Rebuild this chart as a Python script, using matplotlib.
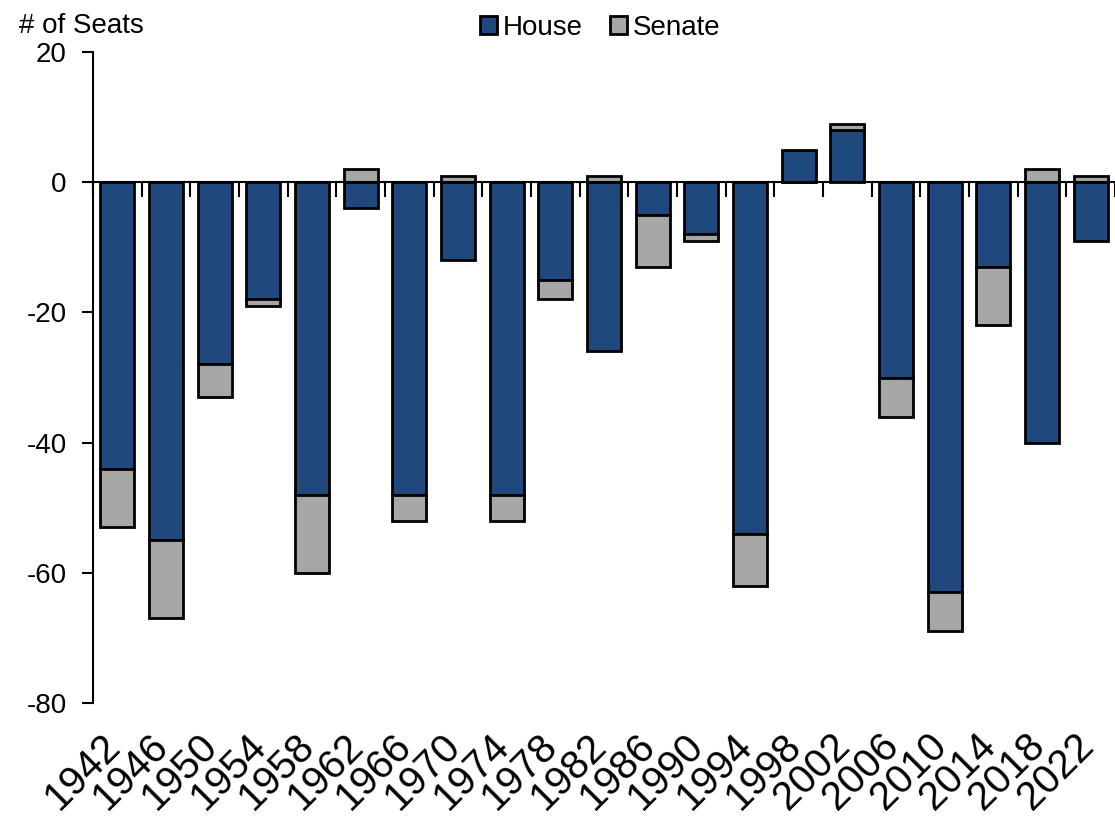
import matplotlib
matplotlib.use("Agg")
import matplotlib.pyplot as plt
import numpy as np

years = ["1942", "1946", "1950", "1954", "1958", "1962", "1966", "1970", "1974", "1978",
         "1982", "1986", "1990", "1994", "1998", "2002", "2006", "2010", "2014", "2018", "2022"]
house = [-44, -55, -28, -18, -48, -4, -48, -12, -48, -15,
         -26, -5, -8, -54, 5, 8, -30, -63, -13, -40, -9]
senate = [-9, -12, -5, -1, -12, 2, -4, 1, -4, -3,
          1, -8, -1, -8, 0, 1, -6, -6, -9, 2, 1]

house_color = "#1F497D"
senate_color = "#A6A6A6"

plt.rcParams['font.family'] = ['Liberation Sans', 'DejaVu Sans']
plt.rcParams['axes.unicode_minus'] = False

fig = plt.figure(figsize=(11.15, 8.21), dpi=100)
ax = fig.add_axes([93/1115, 1-703/821, 1-93/1115, (703-52)/821])

x = np.arange(len(years))
h = np.array(house, dtype=float)
s = np.array(senate, dtype=float)
# stack senate on the same side as house where signs agree, else from zero
s_bottom = np.where(np.sign(s) == np.sign(h), h, 0.0)

ax.bar(x, h, width=0.7, color=house_color, edgecolor="black", linewidth=2, label="House", zorder=3)
ax.bar(x, s, bottom=s_bottom, width=0.7, color=senate_color, edgecolor="black", linewidth=2,
       label="Senate", zorder=3)

ax.set_xlim(-0.5, len(years) - 0.5)
ax.set_ylim(-80, 20)
ax.set_yticks([20, 0, -20, -40, -60, -80])
ax.tick_params(axis='y', direction='out', length=8, width=1.5, labelsize=20, pad=11)

for side in ['top', 'right']:
    ax.spines[side].set_visible(False)
ax.spines['left'].set_linewidth(1.5)
ax.spines['bottom'].set_position(('data', 0))
ax.spines['bottom'].set_linewidth(1.5)
ax.spines['bottom'].set_zorder(4)

ax.set_xticks([])
ax.set_xticks(np.arange(len(years) + 1) - 0.5, minor=True)
ax.tick_params(axis='x', which='minor', direction='out', length=11, width=1.5, labelbottom=False)

sec = ax.secondary_xaxis('bottom')
sec.spines['bottom'].set_visible(False)
sec.set_xticks(x)
sec.set_xticklabels(years, rotation=45, ha='right', va='top', fontsize=29)
sec.tick_params(axis='x', length=0, pad=17)
for lbl in sec.get_xticklabels():
    lbl.set_transform(lbl.get_transform() + matplotlib.transforms.ScaledTranslation(10/100, 0, fig.dpi_scale_trans))

fig.text(19/1115, 1-33/821, "# of Seats", fontsize=20, ha='left', va='baseline')

handles, labels = ax.get_legend_handles_labels()
fig.legend(handles, labels, loc='center', bbox_to_anchor=(600/1115, 1-28/821), ncol=2,
           frameon=False, fontsize=20, handlelength=0.6, handleheight=0.6,
           handletextpad=0.2, columnspacing=1.0, borderpad=0.1)

fig.savefig("out.png", dpi=100)
